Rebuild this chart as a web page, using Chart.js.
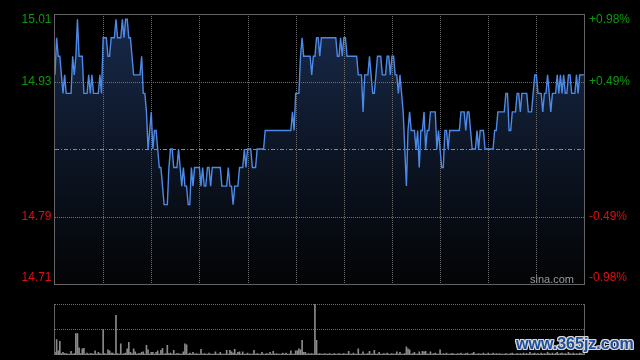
<!DOCTYPE html>
<html><head><meta charset="utf-8">
<script src="https://cdn.jsdelivr.net/npm/chart.js@4.4.0/dist/chart.umd.min.js"></script>
<style>
html,body{margin:0;padding:0;background:#000;}
#wrap{position:relative;width:640px;height:360px;background:#000;overflow:hidden;}
#c1{position:absolute;left:0;top:0;}
#c2{position:absolute;left:0;top:290px;}
#wm{position:absolute;left:516px;top:335px;font:bold 16px "Liberation Sans",Arial,sans-serif;line-height:18px;color:#1f4f9a;
text-shadow:1px 1px 0 #d8d8d8,-1px -1px 0 #d8d8d8,1px -1px 0 #d8d8d8,-1px 1px 0 #d8d8d8,0 1px 0 #d8d8d8,0 -1px 0 #d8d8d8,1px 0 0 #d8d8d8,-1px 0 0 #d8d8d8;}
</style></head><body>
<div id="wrap">
<canvas id="c1" width="640" height="290"></canvas>
<canvas id="c2" width="640" height="70"></canvas>
<div id="wm">www.365jz.com</div>
</div>
<script>
// ---- data ----
const prevClose = 14.86;
const priceLabels = ['15.01', '14.93', '14.79', '14.71'];
const pctLabels = ['+0.98%', '+0.49%', '-0.49%', '-0.98%'];
const pctLevels = [0.0098, 0.0049, -0.0049, -0.0098];
const gridMinutes = [30, 60, 90, 120, 150, 180, 210, 240, 270, 300];

const prices = [
14.94,14.98,14.96,14.96,14.94,14.92,14.94,14.92,14.92,14.92,
14.92,14.96,14.94,14.96,15.00,14.96,14.96,14.96,14.92,14.92,
14.92,14.94,14.92,14.94,14.92,14.92,14.92,14.92,14.94,14.92,
14.98,14.98,14.98,14.96,14.96,14.98,14.98,14.98,15.00,14.98,
14.98,14.98,15.00,14.98,15.00,15.00,14.98,14.98,14.96,14.94,
14.94,14.94,14.94,14.94,14.96,14.92,14.92,14.90,14.86,14.88,
14.90,14.86,14.88,14.88,14.86,14.84,14.84,14.82,14.80,14.80,
14.80,14.84,14.86,14.86,14.84,14.84,14.84,14.86,14.84,14.82,
14.84,14.82,14.82,14.80,14.80,14.84,14.82,14.84,14.84,14.84,
14.84,14.82,14.84,14.82,14.82,14.84,14.84,14.82,14.84,14.84,
14.84,14.84,14.84,14.84,14.82,14.82,14.82,14.82,14.84,14.82,
14.82,14.80,14.82,14.82,14.82,14.84,14.84,14.84,14.86,14.84,
14.86,14.86,14.86,14.84,14.84,14.84,14.86,14.86,14.86,14.86,
14.86,14.88,14.88,14.88,14.88,14.88,14.88,14.88,14.88,14.88,
14.88,14.88,14.88,14.88,14.88,14.88,14.88,14.88,14.90,14.88,
14.92,14.92,14.92,14.96,14.98,14.96,14.96,14.96,14.96,14.96,
14.94,14.96,14.96,14.98,14.98,14.96,14.98,14.98,14.98,14.98,
14.98,14.98,14.98,14.98,14.98,14.98,14.96,14.96,14.98,14.96,
14.98,14.98,14.96,14.96,14.96,14.96,14.96,14.96,14.96,14.94,
14.94,14.94,14.90,14.94,14.94,14.94,14.96,14.94,14.92,14.92,
14.94,14.96,14.96,14.96,14.94,14.94,14.94,14.96,14.96,14.94,
14.96,14.96,14.94,14.94,14.92,14.94,14.92,14.90,14.86,14.82,
14.88,14.90,14.88,14.88,14.88,14.86,14.88,14.84,14.88,14.88,
14.90,14.86,14.88,14.88,14.90,14.90,14.90,14.90,14.86,14.88,
14.86,14.84,14.84,14.88,14.88,14.86,14.88,14.88,14.88,14.88,
14.88,14.88,14.88,14.90,14.90,14.90,14.88,14.90,14.90,14.88,
14.86,14.86,14.86,14.88,14.86,14.88,14.88,14.88,14.86,14.86,
14.86,14.86,14.86,14.86,14.88,14.88,14.90,14.90,14.90,14.90,
14.90,14.92,14.92,14.88,14.88,14.90,14.90,14.90,14.92,14.92,
14.90,14.92,14.92,14.92,14.92,14.90,14.90,14.90,14.92,14.94,
14.94,14.92,14.92,14.92,14.90,14.92,14.92,14.94,14.92,14.90,
14.92,14.92,14.92,14.94,14.92,14.94,14.92,14.94,14.92,14.92,
14.94,14.94,14.92,14.92,14.92,14.94,14.92,14.94,14.94,14.94,14.94
];

const volumes = [
5,30,8,27,3,5,3,3,2,2,
7,2,3,42,42,14,3,12,13,2,
4,2,3,3,2,8,2,5,3,2,
50,3,2,10,8,4,4,2,78,3,
2,22,2,3,4,12,25,5,3,12,
6,2,3,3,5,6,2,19,10,2,
5,5,2,5,8,2,9,13,2,3,
19,3,4,2,9,2,3,3,2,2,
6,22,20,2,4,2,5,2,3,2,
2,11,2,3,2,2,4,2,2,2,
6,2,2,5,2,2,2,9,2,9,
6,4,11,2,5,6,2,6,2,2,
4,2,2,2,9,2,3,2,2,5,
2,2,3,2,5,2,7,2,3,2,
2,2,4,2,4,2,2,8,2,2,
8,8,12,10,29,5,5,2,3,2,
3,2,100,29,2,3,2,2,3,2,
2,3,2,2,3,2,2,3,2,2,
3,2,2,7,2,2,4,2,2,12,
2,2,6,2,2,3,7,2,2,9,
2,2,5,2,2,3,2,4,2,2,
3,2,2,6,2,5,2,2,3,16,
12,10,2,3,5,2,2,6,2,7,
6,7,2,2,6,2,3,4,2,2,
10,2,3,2,4,2,2,3,3,2,
2,3,2,4,2,2,3,4,2,2,
3,5,2,2,3,2,2,4,2,2,
4,2,2,4,2,3,2,3,2,2,
2,3,2,2,3,4,2,2,3,2,
3,2,4,2,3,2,5,2,3,4,
2,3,2,4,2,3,2,5,3,2,
4,2,3,5,2,3,4,2,3,2,
5,3,2,4,2,3,2,4,3,2,3
];

const times = [];
(function(){
  const f = m => String(Math.floor(m / 60)).padStart(2, '0') + ':' + String(m % 60).padStart(2, '0');
  for (let m = 0; m <= 150; m++) times.push(f(570 + m));
  for (let m = 1; m <= 180; m++) times.push(f(780 + m));
})();

const FONT = '12px "Liberation Sans", Arial, sans-serif';
const GREEN = '#0a9a0a', RED = '#dd1010';

const mainDecor = {
  id: 'mainDecor',
  beforeDatasetDraw(chart) {
    const {ctx, chartArea: a, scales: {x, y}} = chart;
    ctx.save();
    ctx.lineWidth = 1;
    ctx.strokeStyle = '#707070';
    ctx.setLineDash([1, 1]);
    gridMinutes.forEach(m => {
      const px = Math.round(x.getPixelForValue(m)) + 0.5;
      ctx.beginPath(); ctx.moveTo(px, a.top); ctx.lineTo(px, a.bottom); ctx.stroke();
    });
    [pctLevels[1], pctLevels[2]].forEach(p => {
      const py = Math.round(y.getPixelForValue(prevClose * (1 + p))) + 0.5;
      ctx.beginPath(); ctx.moveTo(a.left, py); ctx.lineTo(a.right, py); ctx.stroke();
    });
    ctx.strokeStyle = '#8a8a8a';
    ctx.setLineDash([4, 2, 1, 2]);
    const pc = Math.round(y.getPixelForValue(prevClose)) + 0.5;
    ctx.beginPath(); ctx.moveTo(a.left, pc); ctx.lineTo(a.right, pc); ctx.stroke();
    ctx.restore();
  },
  afterDraw(chart) {
    const {ctx, chartArea: a, scales: {y}} = chart;
    ctx.save();
    ctx.strokeStyle = '#646464';
    ctx.lineWidth = 1;
    ctx.setLineDash([]);
    const x0 = Math.floor(a.left) - 0.5, x1 = Math.floor(a.right) + 0.5;
    ctx.strokeRect(x0, a.top + 0.5, x1 - x0, a.bottom - a.top);
    ctx.font = FONT;
    ctx.textBaseline = 'middle';
    pctLevels.forEach((p, i) => {
      let py = y.getPixelForValue(prevClose * (1 + p));
      if (i === 0) py += 6;
      if (i === pctLevels.length - 1) py -= 6.5;
      ctx.fillStyle = p > 0 ? GREEN : RED;
      ctx.textAlign = 'right';
      ctx.fillText(priceLabels[i], 51.5, py);
      ctx.textAlign = 'left';
      ctx.fillText(pctLabels[i], 589, py);
    });
    ctx.fillStyle = '#9a9a9a';
    ctx.font = '11px "Liberation Sans", Arial, sans-serif';
    ctx.textAlign = 'right';
    ctx.textBaseline = 'alphabetic';
    ctx.fillText('sina.com', 574, a.bottom - 1);
    ctx.restore();
  }
};

new Chart(document.getElementById('c1'), {
  type: 'line',
  data: {
    labels: times,
    datasets: [{
      data: prices,
      borderColor: '#4d8ae8',
      borderWidth: 1.4,
      pointRadius: 0,
      tension: 0,
      fill: 'start',
      backgroundColor: (c) => {
        const ch = c.chart, a = ch.chartArea;
        if (!a) return 'rgba(0,0,0,0)';
        const g = ch.ctx.createLinearGradient(0, a.top, 0, a.bottom);
        g.addColorStop(0, '#182a4b');
        g.addColorStop(0.5, '#0d1626');
        g.addColorStop(1, '#030405');
        return g;
      }
    }]
  },
  options: {
    responsive: false, animation: false, devicePixelRatio: 1, events: [],
    layout: {padding: {left: 55, right: 55.5, top: 14, bottom: 6}},
    plugins: {legend: {display: false}, tooltip: {enabled: false}},
    scales: {
      x: {type: 'category', display: false, offset: false},
      y: {display: false, min: prevClose * (1 - 0.0098), max: prevClose * (1 + 0.0098)}
    }
  },
  plugins: [mainDecor]
});

const volDecor = {
  id: 'volDecor',
  beforeDatasetsDraw(chart) {
    const {ctx, chartArea: a} = chart;
    ctx.save();
    ctx.lineWidth = 1;
    ctx.strokeStyle = '#707070';
    ctx.setLineDash([1, 1]);
    const yt = a.top + 0.5, ym = Math.floor((a.top + a.bottom) / 2) + 0.5;
    [yt, ym].forEach(py => { ctx.beginPath(); ctx.moveTo(a.left, py); ctx.lineTo(a.right, py); ctx.stroke(); });
    ctx.setLineDash([]);
    ctx.strokeStyle = '#646464';
    const x0 = Math.floor(a.left) - 0.5, x1 = Math.floor(a.right) + 0.5;
    [x0, x1].forEach(px => { ctx.beginPath(); ctx.moveTo(px, a.top); ctx.lineTo(px, a.bottom); ctx.stroke(); });
    ctx.restore();
  }
};

new Chart(document.getElementById('c2'), {
  type: 'bar',
  data: {
    labels: times,
    datasets: [{data: volumes, backgroundColor: '#8a8a8a', barThickness: 1, borderWidth: 0}]
  },
  options: {
    responsive: false, animation: false, devicePixelRatio: 1, events: [],
    layout: {padding: {left: 55, right: 55.5, top: 14, bottom: 5}},
    plugins: {legend: {display: false}, tooltip: {enabled: false}},
    scales: {
      x: {type: 'category', display: false, offset: false},
      y: {display: false, min: 0, max: 100}
    }
  },
  plugins: [volDecor]
});
</script>
</body></html>
